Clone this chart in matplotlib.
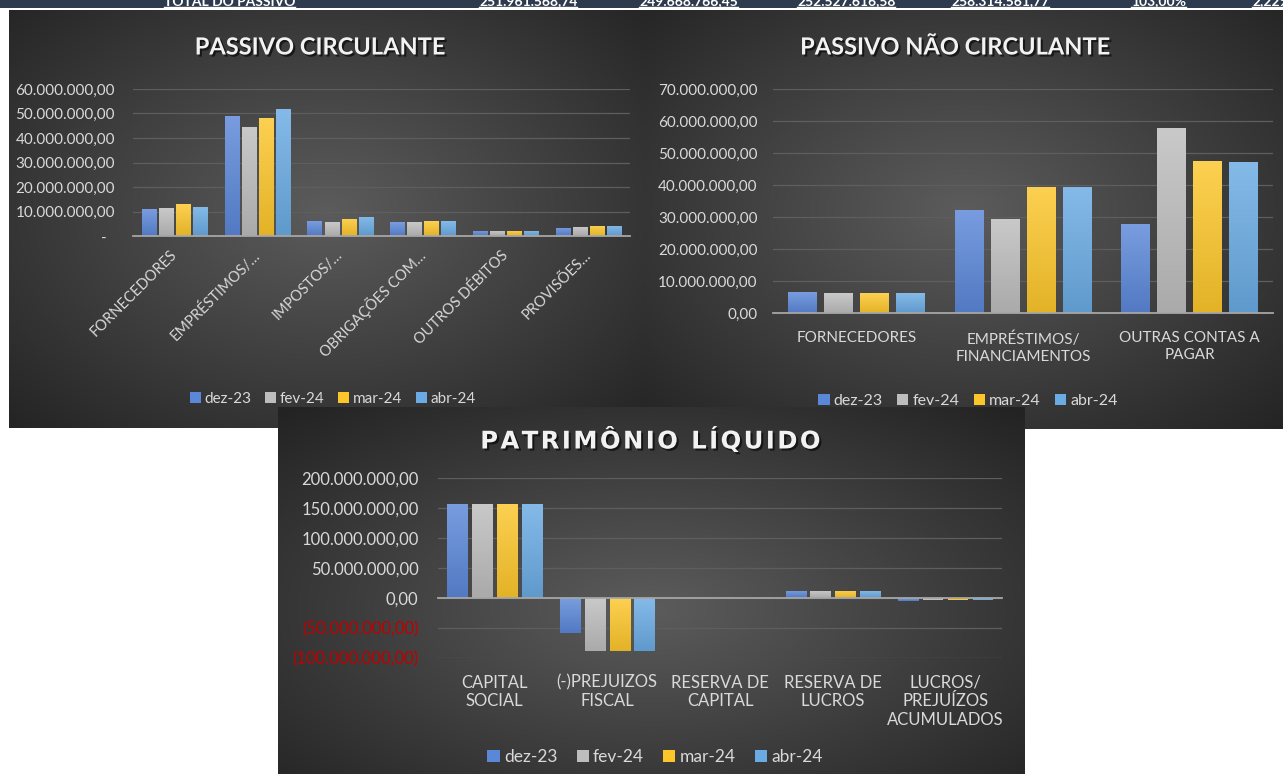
import numpy as np
import matplotlib.pyplot as plt
import matplotlib.patheffects as pe
import matplotlib.colors as mcolors
from matplotlib.patches import Patch
from matplotlib.lines import Line2D

plt.rcParams['font.family'] = ['Lato', 'DejaVu Sans']

W, H = 1283, 774

meses = ['dez-23', 'fev-24', 'mar-24', 'abr-24']
cores = ['#5b87d8', '#bdbdbd', '#fcc62b', '#6aabe3']

# passivo circulante
pc_cat = ['FORNECEDORES', 'EMPRÉSTIMOS/…', 'IMPOSTOS/…', 'OBRIGAÇÕES COM…', 'OUTROS DÉBITOS', 'PROVISÕES…']
pc_dez = [10.9e6, 49.0e6, 6.1e6, 5.7e6, 2.1e6, 3.3e6]
pc_fev = [11.3e6, 44.3e6, 5.7e6, 5.7e6, 2.1e6, 3.8e6]
pc_mar = [12.9e6, 48.2e6, 7.0e6, 6.1e6, 2.1e6, 4.2e6]
pc_abr = [12.0e6, 51.8e6, 7.8e6, 6.1e6, 2.1e6, 4.2e6]

# passivo nao circulante
pnc_cat = ['FORNECEDORES', 'EMPRÉSTIMOS/\nFINANCIAMENTOS', 'OUTRAS CONTAS A\nPAGAR']
pnc_dez = [6.5e6, 32.3e6, 27.8e6]
pnc_fev = [6.2e6, 29.4e6, 57.7e6]
pnc_mar = [6.2e6, 39.4e6, 47.6e6]
pnc_abr = [6.2e6, 39.4e6, 47.2e6]

# patrimonio liquido
pl_cat = ['CAPITAL\nSOCIAL', '(-)PREJUIZOS\nFISCAL', 'RESERVA DE\nCAPITAL', 'RESERVA DE\nLUCROS',
          'LUCROS/\nPREJUÍZOS\nACUMULADOS']
pl_dez = [156.7e6, -57.8e6, 0, 12.2e6, -4.2e6]
pl_fev = [156.7e6, -88.3e6, 0, 12.2e6, -2.5e6]
pl_mar = [156.7e6, -88.3e6, 0, 12.2e6, -2.5e6]
pl_abr = [156.7e6, -88.3e6, 0, 12.2e6, -2.5e6]

# linha da tabela cortada no topo
tab_txt = ['TOTAL DO PASSIVO', '251.961.568,74', '249.668.766,45', '252.527.616,58', '258.314.561,77',
           '103,00%', '2,22%']
tab_x = [164, 479, 639, 797, 951, 1131, 1252]


def box(x0, y0, x1, y1):
    return [x0 / W, 1 - y1 / H, (x1 - x0) / W, (y1 - y0) / H]


def fpos(x, y):
    return x / W, 1 - y / H


def brl(v):
    return f'{abs(v):,.2f}'.replace(',', 'X').replace('.', ',').replace('X', '.')


def painel(x0, y0, x1, y1, cx=0.5, cy=0.5):
    pax = fig.add_axes(box(x0, y0, x1, y1))
    yy, xx = np.mgrid[0:1:200j, 0:1:300j]
    r = np.sqrt(((xx - cx) / 0.5) ** 2 + ((yy - cy) / 0.5) ** 2) / 1.45
    t = np.clip(r, 0, 1)
    v = 0.36 * (1 - t) + 0.14 * t
    pax.imshow(np.dstack([v, v, v]), extent=[0, 1, 0, 1], aspect='auto', interpolation='bilinear')
    pax.axis('off')
    return pax


def barras(ax, valores, slot, bw, ylim):
    x = np.arange(len(valores[0]))
    for i, (vals, c) in enumerate(zip(valores, cores)):
        # leve degrade vertical em cada barra
        rgb = np.array(mcolors.to_rgb(c))
        topo = rgb + (1 - rgb) * 0.18
        base = rgb * 0.9
        grad = np.linspace(0, 1, 64)[:, None, None]
        img = np.repeat(topo * (1 - grad) + base * grad, 2, axis=1)
        for b in ax.bar(x + (i - 1.5) * slot, vals, width=bw, color=c, zorder=3):
            if b.get_height() == 0:
                continue
            y0, y1 = sorted([b.get_y(), b.get_y() + b.get_height()])
            im = ax.imshow(img, extent=(b.get_x(), b.get_x() + b.get_width(), y0, y1), aspect='auto',
                           zorder=3.5, interpolation='bilinear')
            im.set_clip_path(b)
    ax.set_xlim(-0.5, len(x) - 0.5)
    ax.set_ylim(*ylim)
    ax.set_xticks(x)
    ax.set_facecolor('none')
    for s in ax.spines.values():
        s.set_visible(False)
    ax.yaxis.grid(True, color='#5e5e5e', lw=0.9)
    ax.set_axisbelow(True)
    ax.axhline(0, color='#a6a6a6', lw=1.3, zorder=4, clip_on=False)
    ax.tick_params(length=0, colors='#d9d9d9')
    return x


def titulo(pax, x, y, txt, size, family=None):
    pax.text(*fpos(x, y), txt, transform=fig.transFigure, ha='center', va='center', color='#f2f2f2',
             fontsize=size, fontweight='bold', family=family,
             path_effects=[pe.withSimplePatchShadow(offset=(1.5, -1.5), shadow_rgbFace='black', alpha=0.6)])


def legenda(ax, x, y, size, spacing):
    hs = [Patch(facecolor=c, edgecolor='none') for c in cores]
    ax.legend(hs, meses, loc='center', bbox_to_anchor=fpos(x, y), bbox_transform=fig.transFigure, ncol=4,
              frameon=False, fontsize=size, labelcolor='#d9d9d9', handlelength=0.7, handleheight=0.7,
              handletextpad=0.25, columnspacing=spacing, borderpad=0)


fig = plt.figure(figsize=(W / 100, H / 100), dpi=100)
fig.patch.set_facecolor('white')

# faixa da tabela (so aparece a parte de baixo)
tax = fig.add_axes(box(0, 0, W, 8))
tax.set_facecolor('#2e3b4e')
tax.set_xlim(0, W)
tax.set_ylim(8, 0)
tax.set_xticks([])
tax.set_yticks([])
for s in tax.spines.values():
    s.set_visible(False)
tab_t = [tax.text(x, 5.5, t, color='white', fontsize=10, fontweight='bold', va='baseline', clip_on=True)
         for t, x in zip(tab_txt, tab_x)]
fig.canvas.draw()
for t in tab_t:
    bb = t.get_window_extent()  # eixo ocupa a largura toda: x em pixels = x nos dados
    tax.add_line(Line2D([bb.x0, min(bb.x1, W)], [7, 7], color='white', lw=1))

# ---- PASSIVO CIRCULANTE
p1 = painel(9, 10, 645, 428, cy=0.48)
titulo(p1, 320, 47, 'PASSIVO CIRCULANTE', 17)
ax1 = fig.add_axes(box(133, 89, 630, 236))
barras(ax1, [pc_dez, pc_fev, pc_mar, pc_abr], 0.206, 0.17, (0, 60e6))
ax1.set_yticks(np.arange(0, 60e6 + 1, 10e6))
ax1.set_yticklabels(['-  ' if v == 0 else brl(v) for v in ax1.get_yticks()], fontsize=11)
ax1.set_xticklabels(pc_cat, rotation=45, ha='right', va='center', rotation_mode='anchor', fontsize=10.5)
ax1.tick_params(axis='x', pad=12)
ax1.tick_params(axis='y', pad=13)
legenda(ax1, 333, 399, 11, 0.9)

# ---- PASSIVO NAO CIRCULANTE
p2 = painel(645, 10, W, 429, cy=0.48)
titulo(p2, 955, 47, 'PASSIVO NÃO CIRCULANTE', 17)
ax2 = fig.add_axes(box(773, 89, 1273, 313))
barras(ax2, [pnc_dez, pnc_fev, pnc_mar, pnc_abr], 0.216, 0.174, (0, 70e6))
ax2.set_yticks(np.arange(0, 70e6 + 1, 10e6))
ax2.set_yticklabels([brl(v) for v in ax2.get_yticks()], fontsize=11)
ax2.set_xticklabels(pnc_cat, fontsize=11, linespacing=1.3)
ax2.tick_params(axis='x', pad=13)
ax2.tick_params(axis='y', pad=11)
legenda(ax2, 968, 401, 11.5, 0.9)

# ---- PATRIMONIO LIQUIDO
p3 = painel(278, 407, 1025, 774, cy=0.55)
titulo(p3, 650, 440, '\u200a'.join('PATRIMÔNIO LÍQUIDO'), 17.5, family='DejaVu Sans')
ax3 = fig.add_axes(box(438, 478, 1002, 658))
barras(ax3, [pl_dez, pl_fev, pl_mar, pl_abr], 0.22, 0.178, (-100e6, 200e6))
ax3.set_yticks(np.arange(-100e6, 200e6 + 1, 50e6))
ax3.set_yticklabels([('(' + brl(v) + ')') if v < 0 else brl(v) for v in ax3.get_yticks()], fontsize=12)
for v, lbl in zip(ax3.get_yticks(), ax3.get_yticklabels()):
    if v < 0:
        lbl.set_color('#c00000')
ax3.set_xticklabels(pl_cat, fontsize=12, linespacing=1.2)
ax3.tick_params(axis='x', pad=12)
ax3.tick_params(axis='y', pad=14)
legenda(ax3, 655, 757, 12.5, 1.1)

fig.savefig('out.png', dpi=100, facecolor='white')
